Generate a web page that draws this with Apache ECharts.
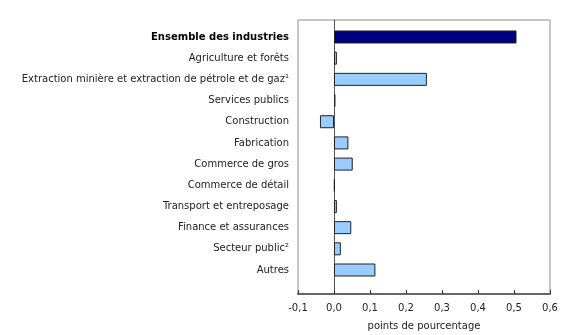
<!DOCTYPE html>
<html><head><meta charset="utf-8">
<script src="https://cdn.jsdelivr.net/npm/echarts@6/dist/echarts.min.js"></script>
<style>html,body{margin:0;padding:0;background:#fff}#c{width:580px;height:335px}</style>
</head><body><div id="c"></div>
<script>
const categories = [
  "Ensemble des industries",
  "Agriculture et forêts",
  "Extraction minière et extraction de pétrole et de gaz¹",
  "Services publics",
  "Construction",
  "Fabrication",
  "Commerce de gros",
  "Commerce de détail",
  "Transport et entreposage",
  "Finance et assurances",
  "Secteur public²",
  "Autres"
];
const values = [0.507, 0.008, 0.258, 0.004, -0.039, 0.040, 0.052, 0.002, 0.008, 0.048, 0.019, 0.115];
const xTicks = { min: -0.1, max: 0.6, interval: 0.1 };
const axisTitle = "points de pourcentage";

const font = "DejaVu Sans, Verdana, sans-serif";
const fs = 10;
const chart = echarts.init(document.getElementById('c'), null, {renderer: 'canvas'});
const fmt = v => v.toFixed(1).replace('.', ',');
chart.setOption({
  animation: false,
  grid: [
    {left: 298, right: 30, top: 20, bottom: 41, show: true, borderColor: '#8a8a8a', borderWidth: 1, containLabel: false, outerBoundsMode: 'none'},
    {left: 298, right: 30, top: 26.4, bottom: 54.4, containLabel: false, outerBoundsMode: 'none'}
  ],
  xAxis: [
    {gridIndex: 0, type: 'value', min: xTicks.min, max: xTicks.max, interval: xTicks.interval,
     axisLine: {show: true, onZero: false, lineStyle: {color: '#666', width: 2}},
     axisTick: {show: true, inside: true, length: 4, lineStyle: {color: '#333'}},
     splitLine: {show: false},
     axisLabel: {formatter: fmt, color: '#222', fontFamily: font, fontSize: fs, margin: 9},
     name: axisTitle, nameLocation: 'middle', nameGap: 27,
     nameTextStyle: {color: '#222', fontFamily: font, fontSize: fs}},
    {gridIndex: 1, type: 'value', min: xTicks.min, max: xTicks.max, interval: xTicks.interval, show: false}
  ],
  yAxis: [
    {gridIndex: 0, type: 'value', min: 0, max: 1, axisLabel: {show: false}, axisTick: {show: false}, splitLine: {show: false},
     axisLine: {show: true, onZero: true, lineStyle: {color: '#555', width: 1}}},
    {gridIndex: 1, type: 'category', data: categories, inverse: true,
     axisLine: {show: false, onZero: false}, axisTick: {show: false},
     axisLabel: {margin: 9, color: '#222', fontFamily: font, fontSize: fs,
       formatter: (v, i) => i === 0 ? '{b|' + v + '}' : v,
       rich: {b: {fontWeight: 'bold', color: '#000', fontFamily: font, fontSize: fs}}}}
  ],
  series: [{
    type: 'bar', xAxisIndex: 1, yAxisIndex: 1, barWidth: 13,
    data: values.map((v, i) => ({value: v, itemStyle: i === 0 ? {color: '#000080'} : {color: '#99ccff'}})),
    itemStyle: {borderColor: '#222', borderWidth: 1}
  }]
});
</script></body></html>
